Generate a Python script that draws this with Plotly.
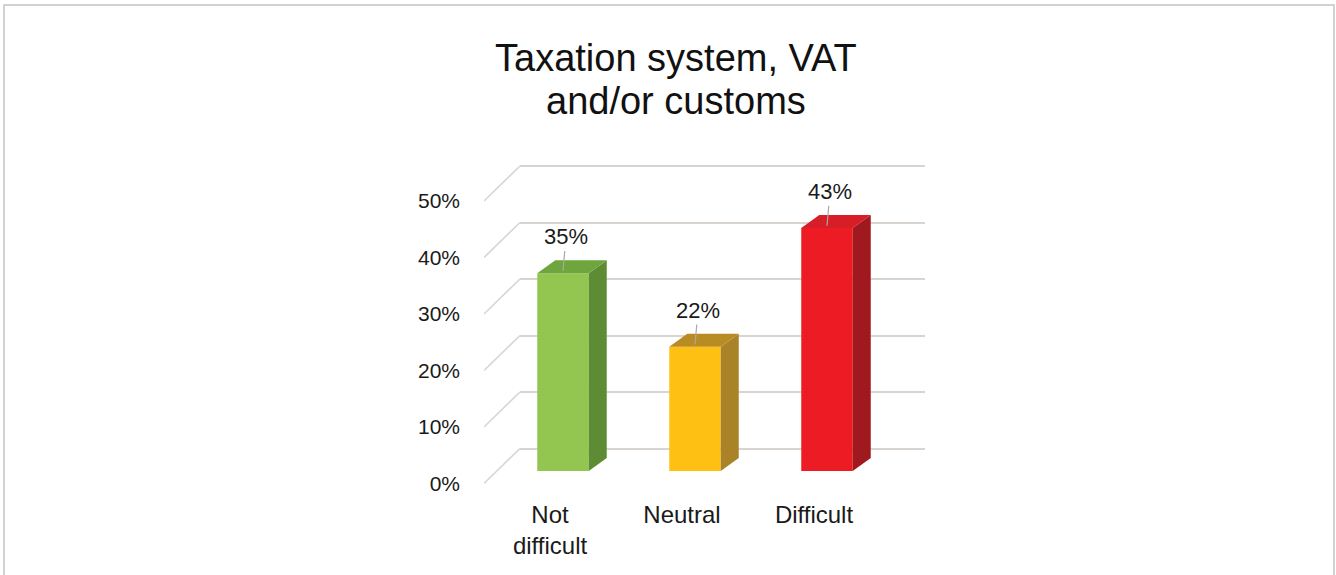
import plotly.graph_objects as go

# ---- data -------------------------------------------------------------
categories = ["Not<br>difficult", "Neutral", "Difficult"]
shares = [0.35, 0.22, 0.43]
share_labels = ["35%", "22%", "43%"]
y_ticks = [0.0, 0.1, 0.2, 0.3, 0.4, 0.5]
y_tick_labels = ["0%", "10%", "20%", "30%", "40%", "50%"]
title_lines = ["Taxation system, VAT", "and/or customs"]

front_colors = ["#92C650", "#FFC014", "#ED1C24"]
side_colors = ["#5E8C34", "#AA8228", "#A0191E"]
top_colors = ["#6EA53C", "#B98C23", "#D71E26"]

# ---- geometry (pixels) ------------------------------------------------
W, H = 1336, 575
PX_PER_UNIT = 565.0        # vertical pixels for 100 %
CAT_STEP = 132.0           # horizontal pixels between categories
BAR_WIDTH = 0.39           # bar width as a fraction of a category slot
BAR_DX, BAR_DY = 18.0, 13.0  # visible depth of each column

FRONT_LEFT, FRONT_ZERO = 484.0, 483.5   # front plane: axis labels
BARS_LEFT, BARS_ZERO = 497.0, 471.0     # plane of the column faces
WALL_LEFT, WALL_RIGHT, WALL_ZERO = 520.0, 925.0, 448.5  # back wall grid

X_RANGE = [-0.5, len(categories) - 0.5]
Y_RANGE = [-0.02, 0.62]

FONT = "Liberation Sans, Arial, sans-serif"
GRID = "#D9D4D0"


def xdomain(left_px):
    span = (X_RANGE[1] - X_RANGE[0]) * CAT_STEP
    return [left_px / W, (left_px + span) / W]


def ydomain(zero_py, lo, hi):
    return [1 - (zero_py - lo * PX_PER_UNIT) / H,
            1 - (zero_py - hi * PX_PER_UNIT) / H]


idx = list(range(len(categories)))
fig = go.Figure()

# back wall (gridlines only) lives on x/y so it is drawn first
fig.add_trace(go.Scatter(x=[None], y=[None], xaxis="x", yaxis="y",
                         showlegend=False, hoverinfo="skip"))

# floor/wall diagonals on the front plane, one per gridline
dx_units = (WALL_LEFT - FRONT_LEFT) / CAT_STEP
dy_units = (FRONT_ZERO - WALL_ZERO) / PX_PER_UNIT
diag_x, diag_y = [], []
for v in y_ticks:
    diag_x += [X_RANGE[0], X_RANGE[0] + dx_units, None]
    diag_y += [v, v + dy_units, None]
fig.add_trace(go.Scatter(x=diag_x, y=diag_y, xaxis="x2", yaxis="y2",
                         mode="lines", line=dict(color=GRID, width=1.6),
                         showlegend=False, hoverinfo="skip"))

# column front faces
fig.add_trace(go.Bar(x=idx, y=shares, width=BAR_WIDTH, xaxis="x3", yaxis="y3",
                     marker=dict(color=front_colors, line=dict(width=0)),
                     showlegend=False, hoverinfo="skip"))

# column side and top faces
ddx = BAR_DX / CAT_STEP
ddy = BAR_DY / PX_PER_UNIT
hw = BAR_WIDTH / 2
for i, v in zip(idx, shares):
    side_x = [i + hw, i + hw + ddx, i + hw + ddx, i + hw, i + hw]
    side_y = [0, ddy, v + ddy, v, 0]
    fig.add_trace(go.Scatter(x=side_x, y=side_y, xaxis="x3", yaxis="y3",
                             mode="lines", fill="toself", fillcolor=side_colors[i],
                             line=dict(width=0, color=side_colors[i]),
                             showlegend=False, hoverinfo="skip"))
    top_x = [i - hw, i - hw + ddx, i + hw + ddx, i + hw, i - hw]
    top_y = [v, v + ddy, v + ddy, v, v]
    fig.add_trace(go.Scatter(x=top_x, y=top_y, xaxis="x3", yaxis="y3",
                             mode="lines", fill="toself", fillcolor=top_colors[i],
                             line=dict(width=0, color=top_colors[i]),
                             showlegend=False, hoverinfo="skip"))

# value labels with leader lines
annotations = []
for i, v, lab in zip(idx, shares, share_labels):
    annotations.append(dict(
        x=i, y=v + 0.004, xref="x3", yref="y3", text=lab,
        showarrow=True, arrowhead=0, arrowwidth=1.2, arrowcolor="#A8A8A8",
        ax=3, ay=-34, standoff=0,
        font=dict(family=FONT, size=22, color="#1A1A1A")))

# two-line title
for k, line in enumerate(title_lines):
    annotations.append(dict(
        x=675.5 / W, y=1 - (58 + 43 * k) / H, xref="paper", yref="paper",
        text=line, showarrow=False, xanchor="center", yanchor="middle",
        font=dict(family=FONT, size=38, color="#111111")))

fig.update_layout(
    width=W, height=H,
    margin=dict(l=0, r=0, t=0, b=0),
    paper_bgcolor="white", plot_bgcolor="rgba(0,0,0,0)",
    font=dict(family=FONT),
    showlegend=False,
    annotations=annotations,
    shapes=[dict(type="rect", xref="paper", yref="paper",
                 x0=4 / W, x1=1334 / W, y0=-0.2, y1=1 - 5 / H,
                 line=dict(color="#D2D2D2", width=2), fillcolor="rgba(0,0,0,0)",
                 layer="below")],
    # back wall
    xaxis=dict(domain=[WALL_LEFT / W, WALL_RIGHT / W], range=[0, 1],
               showgrid=False, zeroline=False, showticklabels=False,
               showline=False, anchor="y", fixedrange=True),
    yaxis=dict(domain=ydomain(WALL_ZERO, *Y_RANGE), range=Y_RANGE,
               tickvals=y_ticks, showgrid=True, gridcolor=GRID, gridwidth=1.6,
               zeroline=False, showticklabels=False, showline=False,
               anchor="x", fixedrange=True),
    # front plane: axis labels
    xaxis2=dict(domain=xdomain(FRONT_LEFT), range=X_RANGE,
                tickvals=idx, ticktext=categories, ticks="",
                ticklabelstandoff=3,
                tickfont=dict(family=FONT, size=24, color="#1A1A1A"),
                showgrid=False, zeroline=False, showline=False,
                anchor="y2", fixedrange=True),
    yaxis2=dict(domain=ydomain(FRONT_ZERO, *Y_RANGE), range=Y_RANGE,
                tickvals=y_ticks, ticktext=y_tick_labels, ticks="",
                ticklabelstandoff=23,
                tickfont=dict(family=FONT, size=21, color="#1A1A1A"),
                showgrid=False, zeroline=False, showline=False,
                anchor="x2", fixedrange=True),
    # column faces
    xaxis3=dict(domain=xdomain(BARS_LEFT), range=X_RANGE, visible=False,
                anchor="y3", fixedrange=True),
    yaxis3=dict(domain=ydomain(BARS_ZERO, *Y_RANGE), range=Y_RANGE,
                visible=False, anchor="x3", fixedrange=True),
)

fig.write_html("out.html")
